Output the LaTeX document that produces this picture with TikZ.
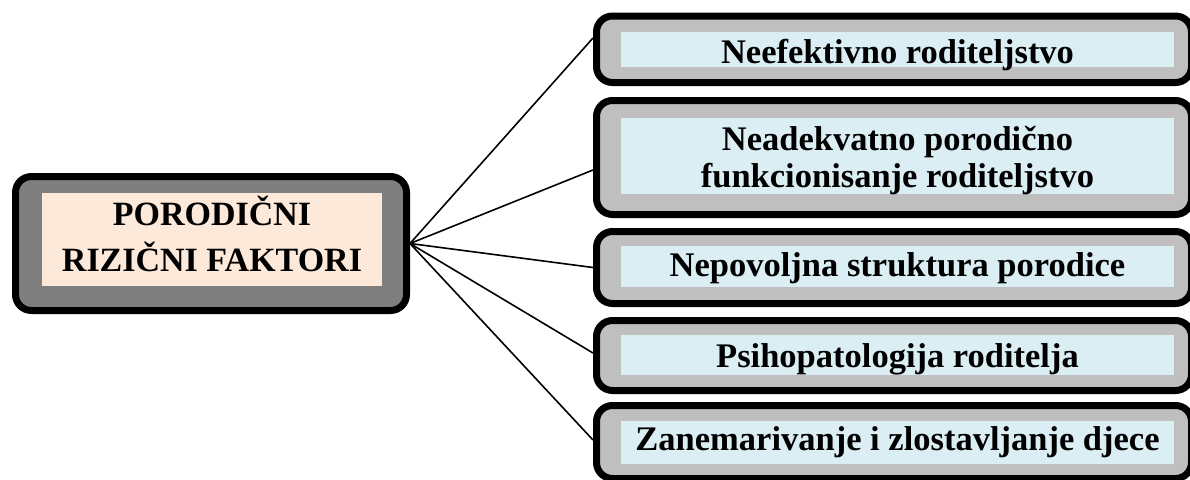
\documentclass[tikz,border=0pt]{standalone}
\usepackage{fontspec}
\setmainfont{Liberation Serif}
\definecolor{rgray}{HTML}{BFBFBF}
\definecolor{dgray}{HTML}{7F7F7F}
\definecolor{lblue}{HTML}{DAEEF3}
\definecolor{peach}{HTML}{FDE9D9}
\begin{document}
\begin{tikzpicture}[x=1pt,y=-1pt,
  rbox/.style={draw=black,line width=7pt,rounded corners=16pt,fill=rgray,inner sep=0pt,minimum width=595pt},
  lbox/.style={draw=black,line width=7pt,rounded corners=16pt,fill=dgray,inner sep=0pt,minimum width=391pt,minimum height=134pt},
  tbox/.style={fill=lblue,inner sep=0pt,minimum width=553pt,align=center,font=\bfseries\fontsize{34.5}{37}\selectfont},
  pbox/.style={fill=peach,inner sep=0pt,minimum width=340pt,align=center,font=\bfseries\fontsize{34}{46}\selectfont},
  conn/.style={draw=black,line width=1.6pt}]
\useasboundingbox (0,0) rectangle (1190,479);
\clip (0,0) rectangle (1190,479);
% root
\node[lbox] (root) at (211,243.5) {};
\node[pbox,text height=78.7pt,text depth=14.3pt,anchor=north] (rt) at (212,193) {PORODIČNI\\RIZIČNI FAKTORI};
% right boxes
\node[rbox,minimum height=66.5pt] (b1) at (894,49.25) {};
\node[tbox,text height=31pt,text depth=4pt,anchor=north] (t1) at (897.5,32) {Neefektivno roditeljstvo};
\node[rbox,minimum height=114pt] (b2) at (894,157.5) {};
\node[tbox,text height=69pt,text depth=7pt,anchor=north] (t2) at (897.5,118) {Neadekvatno porodično\\funkcionisanje roditeljstvo};
\node[rbox,minimum height=72pt] (b3) at (894,267.5) {};
\node[tbox,text height=30pt,text depth=11pt,anchor=north] (t3) at (897.5,246) {Nepovoljna struktura porodice};
\node[rbox,minimum height=70pt] (b4) at (894,355.5) {};
\node[tbox,text height=32pt,text depth=8pt,anchor=north] (t4) at (897.5,335) {Psihopatologija roditelja};
\node[rbox,minimum height=73pt] (b5) at (894,442) {};
\node[tbox,text height=29pt,text depth=14pt,anchor=north] (t5) at (897.5,421) {Zanemarivanje i zlostavljanje djece};
% connectors
\draw[conn] (root.east) -- ([yshift=11.25pt]b1.west);
\draw[conn] (root.east) -- ([yshift=-12.5pt]b2.west);
\draw[conn] (root.east) -- (b3.west);
\draw[conn] (root.east) -- ([yshift=2.5pt]b4.west);
\draw[conn] (root.east) -- ([yshift=2pt]b5.west);
\end{tikzpicture}
\end{document}
